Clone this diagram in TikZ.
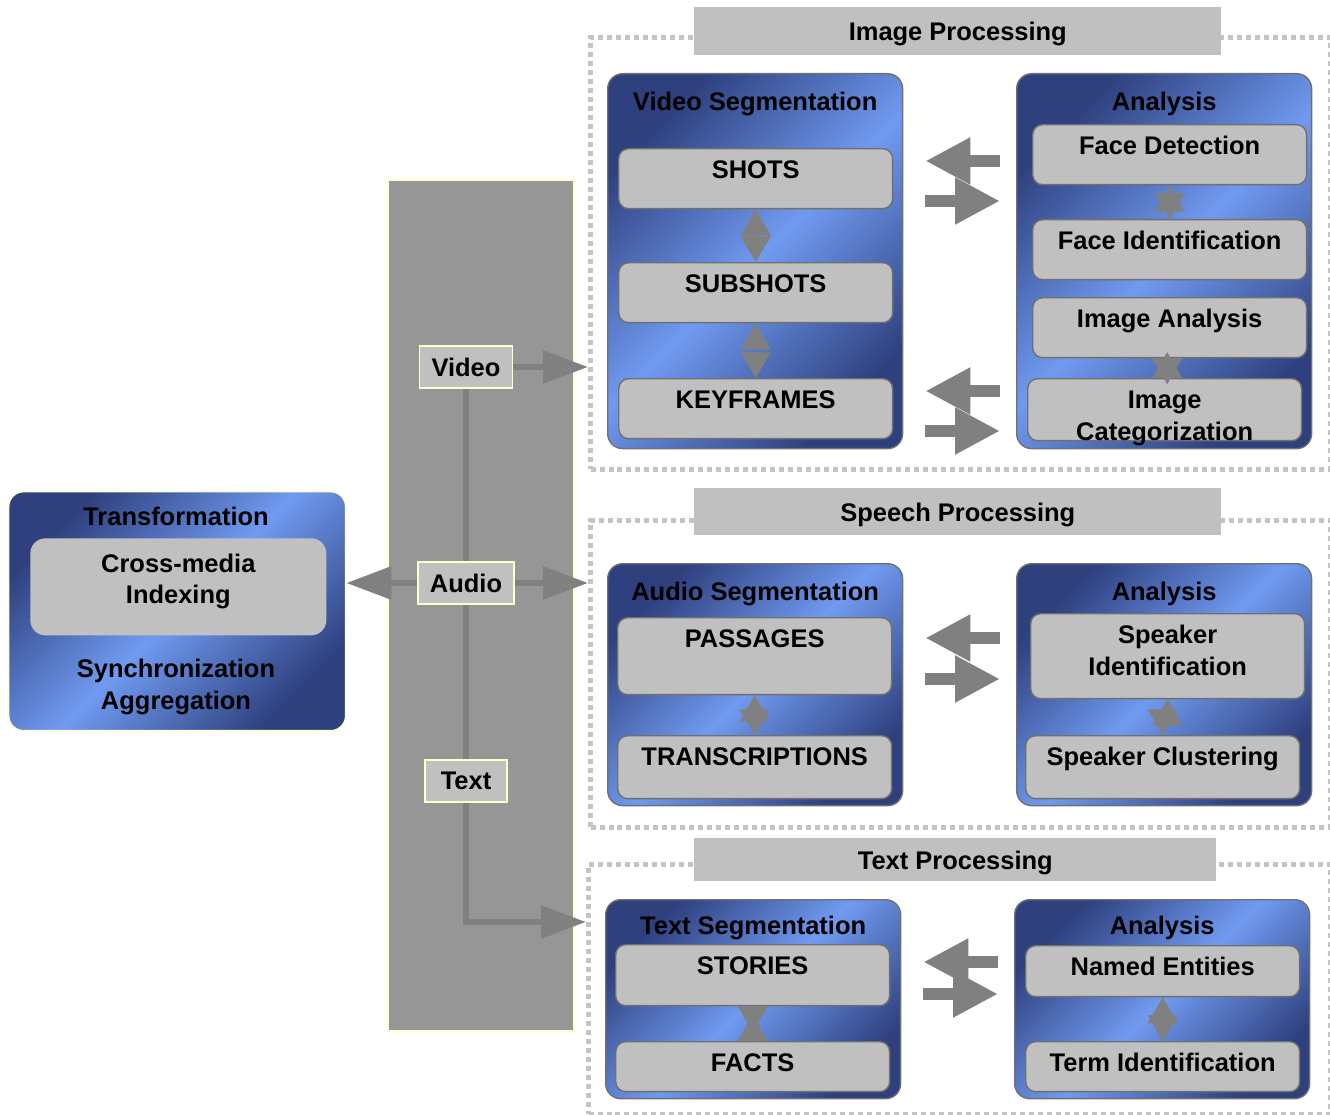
\documentclass[tikz,border=0pt]{standalone}
\usepackage{fontspec}
\setmainfont{Liberation Sans}
\usetikzlibrary{positioning,arrows.meta,calc}
\definecolor{navy}{RGB}{46,64,126}
\definecolor{sky}{RGB}{112,154,240}
\definecolor{silver}{RGB}{192,192,192}
\definecolor{slate}{RGB}{150,150,150}
\definecolor{ink}{RGB}{128,128,128}
\definecolor{cream}{RGB}{255,255,204}
\definecolor{edge}{RGB}{112,112,112}
\definecolor{frameg}{RGB}{196,196,196}
\tikzset{
  every node/.style={font=\fontsize{14.5}{18}\selectfont\bfseries},
  frame/.style={draw=frameg, line width=0.1cm, dash pattern=on 0.1cm off 0.08cm, anchor=north west, inner sep=0pt},
  bar/.style={fill=silver, anchor=north west, inner sep=0pt, text depth=0pt},
  hdr/.style={text depth=0pt},
  panel/.style={fill=slate, draw=cream, line width=1pt, anchor=north west, inner sep=0pt,
    minimum width=3.72cm, minimum height=17.02cm},
  tag/.style={fill=silver, draw=cream, line width=1pt, minimum height=0.84cm, inner xsep=0.24cm, inner ysep=0pt},
  blk/.style={draw=edge, line width=0.8pt, rounded corners=0.3cm, top color=navy, bottom color=navy,
    middle color=sky, shading angle=45, anchor=north west, inner sep=0pt, minimum width=5.9cm},
  item/.style={draw=edge, line width=0.8pt, fill=silver, rounded corners=0.2cm, anchor=north west,
    inner sep=0pt, minimum width=5.48cm, align=center},
  hi/.style={text height=0.6cm, text depth=#1},
  wire/.style={draw=ink, line width=0.12cm},
  feed/.style={wire, -{Triangle[width=0.64cm,length=0.9cm]}},
  fat/.style={draw=ink, line width=0.24cm, -{Triangle[width=0.88cm,length=0.9cm]}},
  spike/.style={draw=ink, line width=0.4pt, -{Triangle[width=0.6cm,length=0.52cm]}},
}
% two opposite arrows between a segmentation box and its analysis box
\newcommand\trade[4]{%
  \draw[fat] ($(#2.west |- 0,#3)+(-16,0)$) -- ($(#1.east |- 0,#3)+(22,0)$);
  \draw[fat] ($(#1.east |- 0,#4)+(22,0)$) -- ($(#2.west |- 0,#4)+(-16,0)$);}
% spikes pointing at two stacked items
\newcommand\link[2]{%
  \draw[spike] ($(#1.south)+(0,26)$) -- (#1.south);
  \draw[spike] ($(#2.north)+(0,-26)$) -- (#2.north);}
% spikes pointing away from two stacked items
\newcommand\pinch[2]{%
  \draw[spike] (#1.south) -- ($(#1.south)+(0,26)$);
  \draw[spike] (#2.north) -- ($(#2.north)+(0,-26)$);}
\begin{document}
\begin{tikzpicture}[x=0.02cm,y=-0.02cm]
  \useasboundingbox (0,0) rectangle (1330,1115);

  % processing frames
  \node[frame, minimum width=14.8cm, minimum height=8.64cm] (ipf) at (588,35) {};
  \node[frame, minimum width=14.8cm, minimum height=6.14cm] (spf) at (588,518) {};
  \node[frame, minimum width=14.84cm, minimum height=5cm] (tpf) at (586,862) {};
  \node[bar, minimum width=10.54cm, minimum height=0.96cm] (ipt) at (694,7) {Image Processing};
  \node[bar, minimum width=10.54cm, minimum height=0.94cm] (spt) at (694,488) {Speech Processing};
  \node[bar, minimum width=10.44cm, minimum height=0.86cm] (tpt) at (694,838) {Text Processing};

  % media bus
  \node[panel] (bus) at (387,179) {};
  \coordinate (tin) at (586,922);
  \node[tag] (vid) at (466,367) {Video};
  \node[tag] (aud) at (466,583) {Audio};
  \node[tag, minimum width=1.64cm] (txt) at (466,781) {Text};
  \draw[wire] (vid) -- (aud) -- (txt);
  \draw[feed] (txt.south) |- (tin);

  % transformation
  \node[blk, draw=cream, minimum width=6.74cm, minimum height=4.78cm] (trf) at (8,491) {};
  \node[hdr] (trft) at (176,516) {Transformation};
  \node[fill=silver, rounded corners=0.3cm, minimum width=5.92cm, anchor=north west, inner sep=0pt,
    text height=0.68cm, text depth=1.26cm] (xidx) at (30,538)
    {\begin{tabular}[t]{c}Cross-media\\Indexing\end{tabular}};
  \node[align=center] (sync) at (176,687) {Synchronization\\Aggregation};
  \draw[feed] (vid) -- (vid -| ipf.west);
  \draw[feed] (aud) -- (aud -| spf.west);
  \draw[feed] (aud) -- (aud -| trf.east);

  % image processing
  \node[blk, minimum height=7.5cm] (vseg) at (607,73) {};
  \node[hdr] at ($(vseg.north)+(0,28)$) {Video Segmentation};
  \node[item, hi=0.6cm] (sh) at (618,148) {SHOTS};
  \node[item, hi=0.6cm] (sub) at (618,262) {SUBSHOTS};
  \node[item, hi=0.6cm] (kf) at (618,378) {KEYFRAMES};
  \link{sh}{sub}
  \link{sub}{kf}

  \node[blk, minimum height=7.5cm] (vana) at (1016,73) {};
  \node[hdr] at ($(vana.north)+(0,28)$) {Analysis};
  \node[item, hi=0.6cm] (fd) at (1032,124) {Face Detection};
  \node[item, hi=0.6cm] (fi) at (1032,219) {Face Identification};
  \node[item, hi=0.6cm] (ia) at (1032,297) {Image Analysis};
  \node[item, hi=0.64cm] (ic) at (1027,378) {\begin{tabular}[t]{c}Image\\Categorization\end{tabular}};
  \link{fd}{fi}
  \coordinate (iam) at ($(ia.south)!0.5!(ic.north)$);
  \draw[spike] ($(iam)+(0,10)$) -- ($(iam)+(0,-16)$);
  \draw[spike] ($(iam)+(0,-10)$) -- ($(iam)+(0,16)$);
  \trade{vseg}{vana}{161}{201}
  \trade{vseg}{vana}{391}{431}

  % speech processing
  \node[blk, minimum height=4.84cm] (aseg) at (607,563) {};
  \node[hdr] at ($(aseg.north)+(0,28)$) {Audio Segmentation};
  \node[item, hi=0.94cm] (pas) at (617,617) {PASSAGES};
  \node[item, hi=0.66cm] (trn) at (617,735) {TRANSCRIPTIONS};
  \link{pas}{trn}

  \node[blk, minimum height=4.84cm] (aana) at (1016,563) {};
  \node[hdr] at ($(aana.north)+(0,28)$) {Analysis};
  \node[item, hi=1.1cm] (spi) at (1030,613) {\begin{tabular}[t]{c}Speaker\\Identification\end{tabular}};
  \node[item, hi=0.66cm] (spc) at (1025,735) {Speaker Clustering};
  \link{spi}{spc}
  \trade{aseg}{aana}{638}{679}

  % text processing
  \node[blk, minimum height=3.98cm] (tseg) at (605,899) {};
  \node[hdr] at ($(tseg.north)+(0,26)$) {Text Segmentation};
  \node[item, hi=0.62cm] (sto) at (615,944) {STORIES};
  \node[item, hi=0.4cm] (fac) at (615,1041) {FACTS};
  \pinch{sto}{fac}

  \node[blk, minimum height=3.98cm] (tana) at (1014,899) {};
  \node[hdr] at ($(tana.north)+(0,26)$) {Analysis};
  \node[item, hi=0.42cm] (ne) at (1025,945) {Named Entities};
  \node[item, hi=0.4cm] (ti) at (1025,1041) {Term Identification};
  \link{ne}{ti}
  \trade{tseg}{tana}{962}{994}
\end{tikzpicture}
\end{document}
